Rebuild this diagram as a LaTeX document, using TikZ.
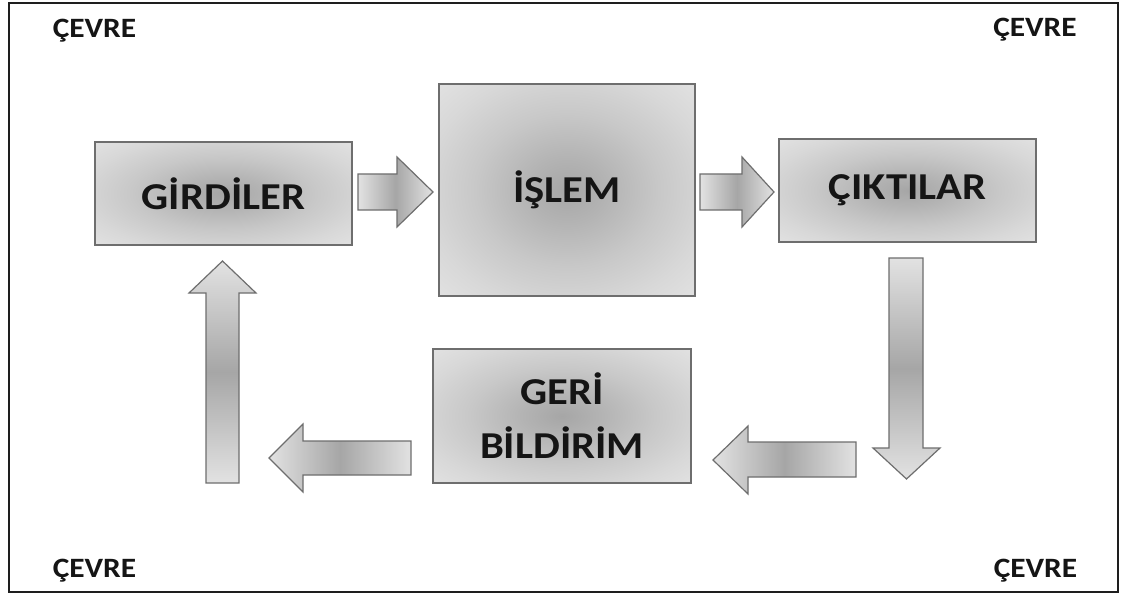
\documentclass[tikz,border=0pt]{standalone}
\usepackage{fontspec}
\setmainfont{Carlito}
\usepackage{graphicx}
\definecolor{frame}{HTML}{1E1E1E}
\definecolor{boxline}{HTML}{6E6E6E}
\definecolor{arrend}{HTML}{E2E2E2}
\definecolor{arrmid}{HTML}{A6A6A6}
\definecolor{txt}{HTML}{151515}
\definecolor{sa}{HTML}{A6A6A6}
\definecolor{sb}{HTML}{B4B4B4}
\definecolor{sc}{HTML}{C8C8C8}
\definecolor{sd}{HTML}{D8D8D8}
\definecolor{se}{HTML}{E2E2E2}
\definecolor{sf}{HTML}{EAEAEA}
\pgfdeclareradialshading{boxshade}{\pgfpoint{0bp}{0bp}}{color(0bp)=(sa); color(8bp)=(sb); color(18bp)=(sc); color(28bp)=(sd); color(36bp)=(se); color(72bp)=(sf)}
\newcommand{\wx}[1]{\scalebox{1.12}[1]{#1}}
\newcommand{\wenv}[1]{\scalebox{1.12}[1]{#1}}
\begin{document}
\begin{tikzpicture}[x=1pt,y=-1pt,
  box/.style={draw=boxline, line width=1.5pt, shading=boxshade, inner sep=0pt, outer sep=0pt},
  lbl/.style={font=\bfseries\fontsize{38}{54}\selectfont, text=txt, align=center},
  env/.style={font=\bfseries\fontsize{28}{30}\selectfont, text=txt, inner sep=0pt, anchor=base},
  harrow/.style={draw=boxline, line width=1.2pt, left color=arrend, right color=arrend, middle color=arrmid, line join=miter},
  varrow/.style={draw=boxline, line width=1.2pt, top color=arrend, bottom color=arrend, middle color=arrmid, line join=miter}]
\useasboundingbox (0,0) rectangle (1125,599);
\fill[white] (0,0) rectangle (1125,599);
\draw[line width=2.5pt, draw=frame] (9,3) rectangle (1118,592);

% environment labels
\node[env] (c1) at (94.5,38) {\wenv{ÇEVRE}};
\node[env] (c2) at (1035,37) {\wenv{ÇEVRE}};
\node[env] (c3) at (94.5,577) {\wenv{ÇEVRE}};
\node[env] (c4) at (1035.5,577) {\wenv{ÇEVRE}};

% boxes
\node[box, lbl, minimum width=257pt, minimum height=103pt] (gir) at (223.5,193.5) {\wx{GİRDİLER}};
\node[box, lbl, minimum width=256pt, minimum height=212pt] (isl) at (567,190) {\wx{İŞLEM}};
\node[box, lbl, minimum width=257pt, minimum height=103pt] (cik) at (907.5,190.5) {\wx{ÇIKTILAR}};
\node[box, lbl, minimum width=258pt, minimum height=134pt] (geri) at (562,416) {\wx{GERİ}\\\wx{BİLDİRİM}};

% block arrows
% girdiler -> islem
\draw[harrow] (358,174) -- (397,174) -- (397,157) -- (433,192) -- (397,227) -- (397,210) -- (358,210) -- cycle;
% islem -> ciktilar
\draw[harrow] (700,174) -- (742,174) -- (742,157) -- (774,192) -- (742,227) -- (742,210) -- (700,210) -- cycle;
% ciktilar down
\draw[varrow] (889,258) -- (923,258) -- (923,448) -- (940,448) -- (906.5,479) -- (873,448) -- (889,448) -- cycle;
% to geri bildirim
\draw[harrow] (856,442) -- (748,442) -- (748,426) -- (713,460) -- (748,494) -- (748,477) -- (856,477) -- cycle;
% from geri bildirim
\draw[harrow] (411,441) -- (303,441) -- (303,424) -- (269,458) -- (303,492) -- (303,475) -- (411,475) -- cycle;
% up to girdiler
\draw[varrow] (206,483) -- (206,293) -- (189,293) -- (222.5,261) -- (256,293) -- (239,293) -- (239,483) -- cycle;
\end{tikzpicture}
\end{document}
